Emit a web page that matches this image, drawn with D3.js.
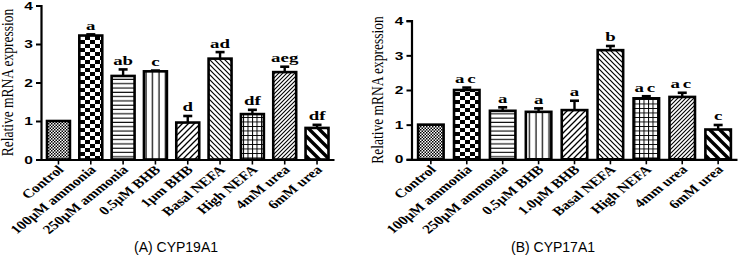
<!DOCTYPE html>
<html lang="en">
<head>
<meta charset="UTF-8">
<title>CYP19A1 / CYP17A1 expression</title>
<script src="https://d3js.org/d3.v7.min.js"></script>
<style>
    body{ margin:0; background:#fff; }
    .tick-lbl{ font-family:"Liberation Sans",Arial,sans-serif; font-weight:bold; font-size:11.5px; }
    .cat-lbl{ font-family:"Liberation Serif","Times New Roman",serif; font-weight:bold; font-size:12.5px; }
    .sig{ font-family:"Liberation Serif","Times New Roman",serif; font-weight:bold; font-size:13px; }
    .ytitle{ font-family:"Liberation Serif","Times New Roman",serif; font-size:13.5px; }
    .caption{ font-family:"Liberation Sans",Arial,sans-serif; font-size:14px; }
</style>
</head>
<body>
<svg width="739" height="264" id="canvas"></svg>
<script>
// ---- data ----
const catsA = ["Control","100\u03bcM ammonia","250\u03bcM ammonia","0.5\u03bcM BHB","1\u03bcm BHB","Basal NEFA","High NEFA","4mM urea","6mM urea"];
const meanA = [1.0, 3.22, 2.17, 2.29, 0.96, 2.62, 1.18, 2.27, 0.82];
const errA  = [0, 0.03, 0.17, 0.02, 0.17, 0.17, 0.11, 0.14, 0.08];
const sigA  = ["", "a", "ab", "c", "d", "ad", "df", "aeg", "df"];

const catsB = ["Control","100\u03bcM ammonia","250\u03bcM ammonia","0.5\u03bcM BHB","1.0\u03bcM BHB","Basal NEFA","High NEFA","4mm urea","6mM urea"];
const meanB = [1.0, 2.0, 1.40, 1.37, 1.42, 3.15, 1.76, 1.80, 0.86];
const errB  = [0, 0.07, 0.10, 0.10, 0.27, 0.12, 0.06, 0.12, 0.13];
const sigB  = ["", "ac", "a", "a", "a", "b", "ac", "ac", "c"];

const yTicks = [0, 1, 2, 3, 4];
const patternIds = ["pDots","pChecker","pHoriz","pVert","pDiagF","pDiagB","pGrid","pDiagDense","pStripe"];

const svg = d3.select("#canvas");

// ---- fill patterns ----
const defs = svg.append("defs");
function pattern(id, w, h){
    const p = defs.append("pattern").attr("id", id).attr("patternUnits","userSpaceOnUse")
        .attr("width", w).attr("height", h);
    p.append("rect").attr("width", w).attr("height", h).attr("fill","#fff");
    return p;
}
let p = pattern("pDots", 3, 3);
p.append("rect").attr("width",1.5).attr("height",1.5).attr("fill","#000");
p.append("rect").attr("x",1.5).attr("y",1.5).attr("width",1.5).attr("height",1.5).attr("fill","#000");

p = pattern("pChecker", 10, 8);
p.append("rect").attr("width",5).attr("height",4).attr("fill","#000");
p.append("rect").attr("x",5).attr("y",4).attr("width",5).attr("height",4).attr("fill","#000");

p = pattern("pHoriz", 6, 4.3);
p.append("line").attr("x1",0).attr("x2",6).attr("y1",2).attr("y2",2).attr("stroke","#000").attr("stroke-width",1.1);

p = pattern("pVert", 6.5, 6);
p.append("line").attr("y1",0).attr("y2",6).attr("x1",3).attr("x2",3).attr("stroke","#000").attr("stroke-width",1.2);

p = pattern("pDiagF", 6, 6);
p.append("path").attr("d","M-1,1 L1,-1 M0,6 L6,0 M5,7 L7,5").attr("stroke","#000").attr("stroke-width",1.3);

p = pattern("pDiagB", 5, 5);
p.append("path").attr("d","M-1,4 L1,6 M0,0 L5,5 M4,-1 L6,1").attr("stroke","#000").attr("stroke-width",1.2);

p = pattern("pGrid", 4.5, 4.5);
p.append("path").attr("d","M0,0.5 H4.5 M0.5,0 V4.5").attr("stroke","#000").attr("stroke-width",1);

p = pattern("pDiagDense", 4, 4);
p.append("path").attr("d","M-1,1 L1,-1 M0,4 L4,0 M3,5 L5,3").attr("stroke","#000").attr("stroke-width",1.1);

p = pattern("pStripe", 10, 10);
p.append("path").attr("d","M-2.5,7.5 L2.5,12.5 M0,0 L10,10 M7.5,-2.5 L12.5,2.5").attr("stroke","#000").attr("stroke-width",3.4);

// ---- one panel ----
function panel(cats, means, errs, sigs, xr, yr, titleX, caption, capX, spaced){
    const rows = cats.map((c,i) => ({cat:c, mean:means[i], err:errs[i], sig:sigs[i], pat:patternIds[i]}));
    const g = svg.append("g");
    const x = d3.scaleBand().domain(cats).range(xr).paddingInner(0.29).paddingOuter(0.17);
    const y = d3.scaleLinear().domain([0,4]).range(yr);
    const cx = d => x(d.cat) + x.bandwidth()/2;

    // bars
    g.selectAll("rect.bar").data(rows).enter().append("rect")
        .attr("class","bar")
        .attr("x", d => x(d.cat))
        .attr("width", x.bandwidth())
        .attr("y", d => y(d.mean))
        .attr("height", d => y(0) - y(d.mean))
        .attr("fill", d => `url(#${d.pat})`)
        .attr("stroke","#000").attr("stroke-width",2.6);

    // error bars (upper half only)
    const eb = g.selectAll("g.err").data(rows.filter(d => d.err > 0)).enter().append("g").attr("class","err");
    eb.append("line")
        .attr("x1", cx).attr("x2", cx)
        .attr("y1", d => y(d.mean)).attr("y2", d => y(d.mean + d.err))
        .attr("stroke","#000").attr("stroke-width",2.4);
    eb.append("line")
        .attr("x1", d => cx(d) - 4.5).attr("x2", d => cx(d) + 4.5)
        .attr("y1", d => y(d.mean + d.err)).attr("y2", d => y(d.mean + d.err))
        .attr("stroke","#000").attr("stroke-width",2.6);

    // significance letters (stretched like the source image)
    g.selectAll("text.sig").data(rows).enter().append("text")
        .attr("class","sig")
        .attr("text-anchor","middle")
        .attr("letter-spacing", d => spaced && d.sig.length > 1 ? 2 : 0)
        .attr("transform", d => `translate(${cx(d)},${y(d.mean + d.err) - 4.5}) scale(1.45,1)`)
        .text(d => d.sig);

    // y axis
    const ya = g.append("g").attr("transform",`translate(${xr[0] - 0.5},0)`)
        .call(d3.axisLeft(y).tickValues(yTicks).tickFormat(d3.format("d")).tickSize(5).tickPadding(3));
    ya.select(".domain").attr("stroke-width",2.2);
    ya.selectAll(".tick line").attr("stroke-width",2);
    ya.selectAll(".tick text").attr("class","tick-lbl").attr("transform","scale(1.35,1)")
        .attr("x", -8/1.35);

    // x axis
    const xa = g.append("g").attr("transform",`translate(0,${y(0)})`)
        .call(d3.axisBottom(x).tickSize(5).tickSizeOuter(0).tickFormat(""));
    xa.select(".domain").attr("stroke-width",2.2);
    xa.selectAll(".tick line").attr("stroke-width",1.6);

    g.selectAll("text.cat").data(rows).enter().append("text")
        .attr("class","cat-lbl")
        .attr("text-anchor","end")
        .attr("transform", d => `translate(${cx(d) + 6},${y(0) + 11}) scale(1.25,1) rotate(-45)`)
        .text(d => d.cat);

    // y title
    g.append("text").attr("class","ytitle")
        .attr("text-anchor","middle")
        .attr("transform",`translate(${titleX},${(yr[0]+yr[1])/2}) scale(1.2,1) rotate(-90)`)
        .text("Relative mRNA expression");

    // caption
    g.append("text").attr("class","caption").attr("text-anchor","middle")
        .attr("x", capX).attr("y", 252).text(caption);
}

panel(catsA, meanA, errA, sigA, [41.5, 334], [159.5, 5.5], 13, "(A) CYP19A1", 176, false);
panel(catsB, meanB, errB, sigB, [412, 737], [159.3, 20.7], 383, "(B) CYP17A1", 553, true);
</script>
</body>
</html>
